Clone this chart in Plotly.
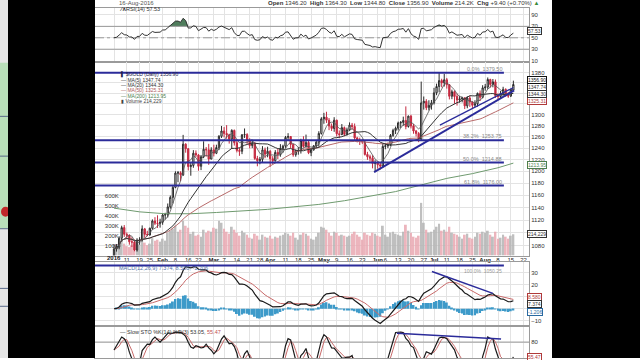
import numpy as np
import pandas as pd
import plotly.graph_objects as go

W, H = 640, 360

# ---------------- data (trading-day index 0 = 4-Jan-2016 ... 156 = 16-Aug-2016) ----------------
opens = [1061.0,1075.0,1078.0,1091.5,1108.0,1097.5,1096.0,1086.0,1085.5,1073.5,1088.5,1089.0,1106.0,1097.5,1096.5,1107.0,1118.5,1115.0,1114.5,
         1116.5,1128.0,1128.5,1141.0,1156.5,1173.0,1197.0,1197.5,1194.0,1247.0,1239.0,1208.0,1210.0,1231.0,1228.0,1208.5,1225.0,1238.0,1237.0,1221.0,
         1237.0,1231.0,1241.0,1261.0,1270.5,1266.0,1263.5,1256.0,1271.5,1249.5,1236.0,1234.5,1263.5,1264.0,1253.5,1244.5,1248.5,1222.0,1218.0,1220.5,1237.0,1229.5,
         1234.5,1221.5,1218.0,1232.5,1229.0,1239.5,1243.5,1259.0,1260.5,1246.5,1228.5,1235.0,1235.5,1253.5,1243.0,1250.0,1232.0,1237.0,1244.0,1250.5,1266.0,
         1292.5,1295.5,1290.0,1279.5,1275.0,1290.0,1265.5,1264.0,1276.5,1264.5,1272.5,1281.0,1278.5,1258.0,1254.5,1253.0,1251.0,1229.0,1225.0,1222.5,1213.5,
         1214.5,1211.0,1209.0,1243.0,1244.0,1246.0,1262.5,1271.5,1275.5,1285.0,1286.0,1289.5,1278.5,1297.5,1279.5,1270.5,1266.0,1256.0,1322.0,1325.0,1313.0,1317.5,
         1322.0,1341.0,1353.0,1364.5,1360.0,1366.0,1356.5,1334.5,1343.0,1334.0,1327.5,1329.5,1331.5,1316.5,1331.0,1323.5,1317.5,1320.5,1340.0,1332.5,
         1350.5,1352.0,1366.5,1357.0,1362.0,1335.5,1334.0,1340.0,1347.5,1336.0,1335.0,1346.2]
highs = [1082.0,1082.5,1094.5,1111.0,1112.0,1100.5,1097.5,1093.0,1089.5,1091.5,1093.0,1111.5,1107.5,1103.0,1108.0,1121.0,1124.5,1127.5,1122.0,
         1130.0,1131.5,1146.5,1159.5,1177.0,1200.0,1200.5,1200.0,1263.5,1248.5,1240.0,1215.0,1236.5,1236.0,1229.5,1228.0,1252.0,1242.0,1247.5,1241.5,
         1246.0,1246.0,1263.0,1279.5,1277.5,1281.0,1265.5,1273.5,1273.0,1255.0,1240.5,1265.0,1275.0,1266.5,1257.5,1254.5,1250.5,1226.5,1224.5,1243.5,1241.0,1242.5,
         1236.5,1226.0,1236.5,1239.0,1247.0,1246.0,1261.5,1266.5,1261.5,1247.5,1237.5,1242.0,1256.5,1261.0,1264.0,1253.0,1239.5,1245.5,1254.5,1270.0,1295.5,
         1303.5,1305.5,1294.0,1284.0,1295.5,1291.0,1271.5,1283.0,1278.5,1276.5,1286.0,1285.0,1284.0,1260.0,1258.5,1255.5,1253.5,1233.5,1228.5,1227.5,1219.0,
         1217.0,1214.0,1248.5,1248.5,1249.5,1265.0,1274.5,1278.5,1287.5,1288.5,1296.5,1315.5,1298.5,1300.0,1283.0,1272.0,1268.5,1362.5,1334.0,1329.0,1327.0,1327.5,
         1350.5,1358.5,1379.5,1368.0,1377.5,1369.5,1357.5,1347.0,1345.5,1339.5,1335.5,1333.5,1332.5,1334.5,1335.5,1325.0,1327.0,1341.5,1345.5,1355.5,
         1358.0,1370.5,1368.0,1367.5,1366.5,1340.0,1344.5,1352.5,1349.5,1342.5,1348.5,1364.3]
lows = [1061.0,1071.0,1074.5,1086.0,1093.5,1090.5,1081.5,1078.0,1071.5,1071.0,1081.5,1086.5,1092.0,1094.5,1095.5,1105.0,1112.0,1107.5,1108.0,
        1112.5,1121.0,1124.0,1138.0,1146.5,1171.5,1181.5,1183.5,1192.0,1232.0,1201.5,1192.5,1206.0,1224.0,1201.0,1202.0,1222.5,1225.0,1211.0,1220.5,
        1225.5,1229.5,1236.5,1258.0,1259.0,1256.5,1248.0,1238.5,1244.5,1232.5,1226.5,1229.5,1258.0,1247.5,1239.5,1240.0,1219.5,1208.5,1212.0,1214.5,1222.5,1224.0,
        1207.5,1212.5,1216.5,1221.0,1225.0,1232.0,1240.5,1253.0,1240.0,1225.0,1225.0,1228.5,1230.5,1240.5,1240.5,1229.5,1226.0,1235.5,1240.0,1242.5,1264.0,
        1283.5,1285.0,1272.0,1270.5,1269.0,1260.5,1257.5,1263.0,1261.0,1262.0,1270.5,1273.0,1254.5,1250.0,1245.5,1247.5,1227.0,1219.5,1216.5,1205.0,1199.5,
        1204.5,1203.0,1206.5,1238.0,1240.0,1243.5,1260.0,1265.0,1271.5,1276.0,1280.0,1273.5,1276.5,1275.0,1265.5,1260.5,1250.5,1252.5,1309.5,1308.5,1308.0,1309.5,
        1319.0,1336.5,1342.0,1351.5,1353.0,1349.0,1328.5,1329.0,1320.5,1317.0,1322.5,1323.0,1310.5,1312.0,1314.5,1312.5,1314.0,1315.0,1325.5,1330.5,
        1345.0,1348.5,1351.0,1351.5,1331.5,1328.5,1330.0,1335.5,1333.5,1331.5,1333.0,1344.8]
closes = [1075.0,1078.3,1091.5,1108.0,1097.6,1096.0,1086.0,1085.5,1073.5,1088.5,1089.0,1106.0,1097.5,1096.5,1107.0,1118.5,1115.0,1114.5,1116.5,
          1128.0,1128.5,1141.0,1156.5,1173.0,1197.0,1197.5,1194.0,1247.0,1239.0,1208.0,1210.0,1231.0,1228.0,1208.5,1225.0,1238.0,1237.0,1221.0,1237.0,
          1231.0,1241.0,1261.0,1270.5,1266.0,1263.5,1256.0,1271.5,1249.5,1236.0,1234.5,1263.5,1264.0,1253.5,1244.5,1248.5,1222.0,1218.0,1220.5,1237.0,1229.5,1234.5,
          1221.5,1218.0,1232.5,1229.0,1239.5,1243.5,1259.0,1260.5,1246.5,1228.5,1235.0,1235.5,1253.5,1243.0,1250.0,1232.0,1237.0,1244.0,1250.5,1266.0,1292.5,
          1295.5,1290.0,1279.5,1275.0,1290.0,1265.5,1264.0,1276.5,1264.5,1272.5,1281.0,1278.5,1258.0,1254.5,1253.0,1251.0,1229.0,1225.0,1222.5,1213.5,1214.5,
          1211.0,1209.0,1243.0,1244.0,1246.0,1262.5,1271.5,1275.5,1285.0,1286.0,1289.5,1278.5,1297.5,1279.5,1270.5,1266.0,1256.0,1322.0,1325.0,1313.0,1317.5,1322.0,
          1341.0,1353.0,1364.5,1360.0,1366.0,1356.5,1334.5,1343.0,1334.0,1327.5,1329.5,1331.5,1316.5,1331.0,1323.5,1317.5,1320.5,1340.0,1332.5,1350.5,
          1352.0,1366.5,1357.0,1362.0,1335.5,1334.0,1340.0,1347.5,1336.0,1335.0,1347.5,1356.9]
volumes_k = [60,95,130,150,120,95,85,100,115,140,110,160,130,105,120,175,150,160,140,
             170,150,230,250,270,300,240,260,350,300,280,220,240,200,210,190,260,230,250,240,
             280,270,350,330,270,240,220,290,260,230,200,250,230,210,180,170,220,200,160,210,190,180,
             200,170,190,180,200,210,230,220,200,230,180,160,210,230,220,200,170,160,190,230,290,
             280,260,230,200,240,230,200,210,200,190,200,220,240,210,190,160,230,210,200,230,220,
             200,190,300,210,190,230,240,220,210,200,240,310,250,230,190,180,200,530,330,260,230,240,
             260,290,320,250,260,240,290,230,220,210,190,170,210,220,180,170,190,230,220,240,
             230,250,210,190,240,170,180,210,190,170,200,214.229]

# 200-day MA (index, value)
ma200_idx = [0, 10, 20, 30, 40, 50, 60, 70, 80, 90, 100, 110, 120, 130, 140, 150, 156]
ma200_val = [1139, 1133, 1130, 1130, 1132, 1134, 1137, 1141, 1145, 1151, 1158, 1166, 1177, 1188, 1196, 1206, 1213.95]

tick_idx = [0,5,10,14,19,24,29,33,39,43,48,53,57,61,67,72,77,82,87,92,97,103,106,111,116,121,125,130,135,140,145,150,155,160]
tick_text = ["2016","11","19","25","Feb","8","16","22","Mar","7","14","21","28","Apr","11","18","25","May","9","16","23",
             "Jun","6","13","20","27","Jul","11","18","25","Aug","8","15","22"]

price_ticks = [1080, 1120, 1140, 1160, 1180, 1200, 1220, 1240, 1260, 1280, 1300, 1380]
price_minor = [1100, 1320, 1340, 1360]

fib_levels = [1379.50, 1253.75, 1214.88, 1176.00, 1050.25]
fib_labels = ["0.0%  1379.50", "38.2%  1253.75", "50.0%  1214.88", "61.8%  1176.00", "100.0%  1050.25"]
fib_end_idx = 152.3

trend1_idx, trend1_val = [101.6, 156.3], [1198.5, 1345.5]
trend2_idx, trend2_val = [127.3, 156.0], [1281.0, 1351.0]
macd_trend_idx, macd_trend_val = [124.2, 148.0], [31.2, 12.9]
sto_trend_idx, sto_trend_val = [110.5, 151.2], [95.0, 85.0]

# ---------------- indicators ----------------
n = len(closes)
X = list(range(n))
c = pd.Series(closes, dtype=float)
hi_s = pd.Series(highs, dtype=float)
lo_s = pd.Series(lows, dtype=float)
ma5 = c.rolling(5, min_periods=1).mean()
ma20 = c.rolling(20, min_periods=1).mean()
ma50 = c.rolling(50, min_periods=1).mean()

delta = c.diff().fillna(0.0)
ag, al = 7.0, 7.0
rsi = []
for d in delta:
    ag = (ag * 13 + max(d, 0)) / 14
    al = (al * 13 + max(-d, 0)) / 14
    rsi.append(100 - 100 / (1 + ag / al))
rsi = np.array(rsi)

ema12 = c.ewm(span=12, adjust=False).mean()
ema26 = c.ewm(span=26, adjust=False).mean()
macd = ema12 - ema26
signal = macd.ewm(span=9, adjust=False).mean()
hist = macd - signal

hh = hi_s.rolling(14, min_periods=1).max()
ll = lo_s.rolling(14, min_periods=1).min()
fastk = 100 * (c - ll) / (hh - ll)
slowk = fastk.rolling(3, min_periods=1).mean()
slowd = slowk.rolling(3, min_periods=1).mean()

# ---------------- layout geometry ----------------
def pyd(top, bottom):
    return [1 - bottom / H, 1 - top / H]

xlo, xhi = (95 - 114) / 2.56, (529 - 114) / 2.56
xdom = [95 / W, 529 / W]
p_lo, p_hi = np.log10(1065.0), np.log10(1401.5)

GRID = '#e3e3e3'
FRAME = '#9a9a9a'
FONT = 'Liberation Sans, Arial, sans-serif'

fig = go.Figure()

# RSI panel
fig.add_trace(go.Scatter(x=X, y=[70] * n, xaxis='x', yaxis='y', mode='lines', line=dict(width=0), hoverinfo='skip'))
fig.add_trace(go.Scatter(x=X, y=np.maximum(rsi, 70), xaxis='x', yaxis='y', mode='lines', line=dict(width=0),
                         fill='tonexty', fillcolor='#4f7d5c', hoverinfo='skip'))
for lv, ds in [(70, 'solid'), (30, 'solid'), (50, 'dashdot')]:
    fig.add_trace(go.Scatter(x=[xlo, xhi], y=[lv, lv], xaxis='x', yaxis='y', mode='lines',
                             line=dict(color='#9a9a9a', width=1, dash=ds), hoverinfo='skip'))
fig.add_trace(go.Scatter(x=X, y=rsi, xaxis='x', yaxis='y', mode='lines', line=dict(color='#333333', width=1)))

# Volume (base axis of price panel)
vol_colors = ['#b4b4b4' if i == 0 or closes[i] >= closes[i - 1] else '#e9a9b2' for i in range(n)]
fig.add_trace(go.Bar(x=X, y=volumes_k, xaxis='x2', yaxis='y2', marker=dict(color=vol_colors, line=dict(width=0)),
                     opacity=0.85, hoverinfo='skip'))

# Price overlay
fig.add_trace(go.Scatter(x=ma200_idx, y=ma200_val, xaxis='x2', yaxis='y5', mode='lines', line=dict(color='#6f9a6f', width=1)))
fig.add_trace(go.Scatter(x=X, y=ma50, xaxis='x2', yaxis='y5', mode='lines', line=dict(color='#b86a6a', width=1)))
fig.add_trace(go.Scatter(x=X, y=ma20, xaxis='x2', yaxis='y5', mode='lines', line=dict(color='#333333', width=1)))
fig.add_trace(go.Scatter(x=X, y=ma5, xaxis='x2', yaxis='y5', mode='lines', line=dict(color='#555555', width=0.8)))
for lv in fib_levels[:4]:
    fig.add_trace(go.Scatter(x=[xlo, fib_end_idx], y=[lv, lv], xaxis='x2', yaxis='y5', mode='lines',
                             line=dict(color='#2b2b9a', width=2), hoverinfo='skip'))
fig.add_trace(go.Candlestick(x=X, open=opens, high=highs, low=lows, close=closes, xaxis='x2', yaxis='y5',
                             increasing=dict(line=dict(color='#2a2a2a', width=1), fillcolor='white'),
                             decreasing=dict(line=dict(color='#c42a40', width=1), fillcolor='#c42a40'),
                             whiskerwidth=0, hoverinfo='skip'))
fig.add_trace(go.Scatter(x=trend1_idx, y=trend1_val, xaxis='x2', yaxis='y5', mode='lines', line=dict(color='#2b2b9a', width=2)))
fig.add_trace(go.Scatter(x=trend2_idx, y=trend2_val, xaxis='x2', yaxis='y5', mode='lines', line=dict(color='#2b2b9a', width=1.2)))

# MACD
fig.add_trace(go.Bar(x=X, y=hist, xaxis='x3', yaxis='y3', marker=dict(color='#3d9ac9', line=dict(width=0)), hoverinfo='skip'))
fig.add_trace(go.Scatter(x=X, y=signal, xaxis='x3', yaxis='y3', mode='lines', line=dict(color='#c86a6a', width=1)))
fig.add_trace(go.Scatter(x=X, y=macd, xaxis='x3', yaxis='y3', mode='lines', line=dict(color='#1a1a1a', width=1.2)))
fig.add_trace(go.Scatter(x=macd_trend_idx, y=macd_trend_val, xaxis='x3', yaxis='y3', mode='lines', line=dict(color='#2b2b9a', width=1.5)))

# Slow stochastic
fig.add_trace(go.Scatter(x=[xlo, xhi], y=[80, 80], xaxis='x4', yaxis='y4', mode='lines', line=dict(color='#9a9a9a', width=1)))
fig.add_trace(go.Scatter(x=X, y=slowd, xaxis='x4', yaxis='y4', mode='lines', line=dict(color='#c86a6a', width=1)))
fig.add_trace(go.Scatter(x=X, y=slowk, xaxis='x4', yaxis='y4', mode='lines', line=dict(color='#1a1a1a', width=1.2)))
fig.add_trace(go.Scatter(x=sto_trend_idx, y=sto_trend_val, xaxis='x4', yaxis='y4', mode='lines', line=dict(color='#2b2b9a', width=1.5)))

# first tick label (the year) is placed as an annotation; the rest are axis tick labels
tick_html = [''] + ['<b>%s</b>' % t if t.isalpha() else t for t in tick_text[1:]]

def xax(show_labels, anchor):
    return dict(domain=xdom, range=[xlo, xhi], anchor=anchor, tickmode='array', tickvals=tick_idx,
                ticktext=tick_html, showticklabels=show_labels, ticks='', showgrid=True, gridcolor=GRID,
                gridwidth=1, zeroline=False, showline=True, mirror=True, linecolor=FRAME, linewidth=1,
                tickfont=dict(size=6, color='#222', family=FONT), rangeslider=dict(visible=False),
                fixedrange=True, ticklabelstandoff=-2, tickangle=0)

def yax(dom, rng, vals, anchor, **kw):
    d = dict(domain=dom, range=rng, anchor=anchor, side='right', tickmode='array', tickvals=vals,
             ticks='', showgrid=True, gridcolor=GRID, zeroline=False, showline=True, mirror=True,
             linecolor=FRAME, linewidth=1, tickfont=dict(size=6, color='#333', family=FONT), fixedrange=True)
    d.update(kw)
    return d

fig.update_layout(
    width=W, height=H, margin=dict(l=0, r=0, t=0, b=0),
    paper_bgcolor='white', plot_bgcolor='white', showlegend=False, hovermode=False,
    bargap=0.25, font=dict(family=FONT, size=6, color='#333'),
    xaxis=xax(False, 'y'), xaxis2=xax(True, 'y2'), xaxis3=xax(False, 'y3'), xaxis4=xax(False, 'y4'),
    yaxis=yax(pyd(8, 62), [8.26, 102.2], [10, 30, 50, 70, 90], 'x'),
    yaxis2=yax(pyd(62, 257), [0, 1950], [100, 200, 300, 400, 500, 600], 'x2', side='left',
               ticktext=['100K', '200K', '300K', '400K', '500K', '600K'], ticklabelposition='inside',
               showgrid=False, ticklabelstandoff=8, mirror=False),
    yaxis5=dict(overlaying='y2', anchor='x2', side='right', type='log', range=[p_lo, p_hi], tickmode='array',
                tickvals=price_ticks, ticktext=[str(v) for v in price_ticks], ticks='', showgrid=True,
                gridcolor=GRID, zeroline=False, showline=True, linecolor=FRAME,
                minor=dict(tickmode='array', tickvals=price_minor, showgrid=True, gridcolor=GRID, ticks=''),
                tickfont=dict(size=6, color='#333', family=FONT), fixedrange=True),
    yaxis3=yax(pyd(263, 327), [-13.75, 39.6], [-10, 20, 30], 'x3',
               minor=dict(tickmode='array', tickvals=[0, 10], showgrid=True, gridcolor=GRID, ticks='')),
    yaxis4=yax(pyd(329, 360), [53.3, 105], [80], 'x4'),
)

ann = []
def text(xp, yp, s, size=6, color='#333', anchor='left', **kw):
    d = dict(xref='paper', yref='paper', x=xp / W, y=1 - yp / H, text=s, showarrow=False, xanchor=anchor,
             yanchor='middle', font=dict(size=size, color=color, family=FONT))
    d.update(kw)
    ann.append(d)

text(117, 3, '16-Aug-2016', 6, '#555')
text(541, 3, '<b>Open</b> 1346.20  <b>High</b> 1364.30  <b>Low</b> 1344.80  <b>Close</b> 1356.90  '
             '<b>Volume</b> 214.2K  <b>Chg</b> +9.40 (+0.70%) <span style="color:#3a8a3a">▲</span>', 6, '#333', 'right')
text(117, 9.5, '<b>⁄\u2227</b>RSI(14) 57.53', 5.5, '#333')

# year label under the first tick
ann.append(dict(xref='x2', yref='paper', x=tick_idx[0], y=1 - 259.5 / H, text='<b>%s</b>' % tick_text[0],
                showarrow=False, xanchor='center', yanchor='middle', font=dict(size=6, color='#222', family=FONT)))

# price legend
leg = [(75, '<b>▌</b> $GOLD (Daily) 1356.90', '#22224a'), (80, '— MA(5) 1347.74', '#333'),
       (85.5, '— MA(20) 1344.30', '#333'), (91, '— MA(50) 1325.31', '#b05a5a'),
       (96.5, '— MA(200) 1213.95', '#4f7f4f'), (102, '▮ Volume 214,229', '#444')]
for yy, s, col in leg:
    text(119, yy, s, 5, col)

text(117, 269.5, 'MACD(12,26,9) 7.374, 8.580, -1.206', 5.5, '#5070a8')
text(118, 334, '— Slow STO %K(14) %D(3) 53.05, <span style="color:#c05050">55.47</span>', 5.5, '#333')

# fib labels
for lv, lab in zip(fib_levels[:4], fib_labels[:4]):
    ann.append(dict(xref='x2', yref='y5', x=fib_end_idx, y=np.log10(lv), text=lab, showarrow=False,
                    xanchor='right', yanchor='bottom', yshift=-1, font=dict(size=5.5, color='#8a8a8a', family=FONT)))
frac100 = (np.log10(fib_levels[4]) - p_lo) / (p_hi - p_lo)
xfrac_end = (fib_end_idx - xlo) / (xhi - xlo)
ann.append(dict(xref='x2 domain', yref='y2 domain', x=xfrac_end, y=frac100, text=fib_labels[4], showarrow=False,
                xanchor='right', yanchor='top', yshift=-1, font=dict(size=5, color='#9a9a9a', family=FONT)))

# right value boxes
def box(yref, yv, s, col, shift=0):
    ann.append(dict(xref='paper', yref=yref, x=527 / W, y=yv, text=s, showarrow=False, xanchor='left',
                    yanchor='middle', yshift=shift, font=dict(size=5, color=col, family=FONT), bgcolor='white',
                    bordercolor=col, borderwidth=1, borderpad=0))

box('y5', np.log10(1325.31), '1325.31', '#b03a3a')
box('y5', np.log10(1213.95), '1213.95', '#4f7f4f', -2)
box('y5', np.log10(1344.30), '1344.30', '#333', -2.5)
box('y5', np.log10(1347.74), '1347.74', '#333', 2)
box('y5', np.log10(1356.90), '1356.90', '#111', 4)
box('y2', 214.229, '214,229', '#333')
box('y', 57.53, '57.53', '#333', 2)
box('y3', 8.58, '8.580', '#b03a3a', 2)
box('y3', 7.374, '7.374', '#333', -4)
box('y3', -1.206, '-1.206', '#2a6aa0', -2)
box('y4', 55.47, '55.47', '#b03a3a')

fig.update_layout(annotations=ann)

shapes = []
# 100% fib line (below the price panel)
shapes.append(dict(type='line', xref='x2 domain', yref='y2 domain', x0=0, x1=xfrac_end, y0=frac100, y1=frac100,
                   line=dict(color='#2b2b9a', width=2), layer='above'))
# left UI strip
shapes.append(dict(type='rect', xref='paper', yref='paper', x0=0, x1=8 / W, y0=0, y1=1, fillcolor='#e6e6e6', line=dict(width=0), layer='above'))
shapes.append(dict(type='rect', xref='paper', yref='paper', x0=0, x1=8 / W, y0=1 - 230 / H, y1=1 - 63 / H, fillcolor='#b9dfb9', line=dict(width=0), layer='above'))
for yy in [117, 157, 230, 290, 308]:
    shapes.append(dict(type='line', xref='paper', yref='paper', x0=0, x1=8 / W, y0=1 - yy / H, y1=1 - yy / H,
                       line=dict(color='#5a6a8a', width=1), layer='above'))
shapes.append(dict(type='circle', xref='paper', yref='paper', x0=1 / W, x1=10 / W, y0=1 - 218 / H, y1=1 - 208 / H,
                   fillcolor='#c0282a', line=dict(width=0), layer='above'))
# black letterbox areas
shapes.append(dict(type='rect', xref='paper', yref='paper', x0=8 / W, x1=95 / W, y0=0, y1=1, fillcolor='black', line=dict(width=0), layer='above'))
shapes.append(dict(type='rect', xref='paper', yref='paper', x0=552 / W, x1=1, y0=0, y1=1, fillcolor='black', line=dict(width=0), layer='above'))
fig.update_layout(shapes=shapes)

fig.write_html('out.html')
